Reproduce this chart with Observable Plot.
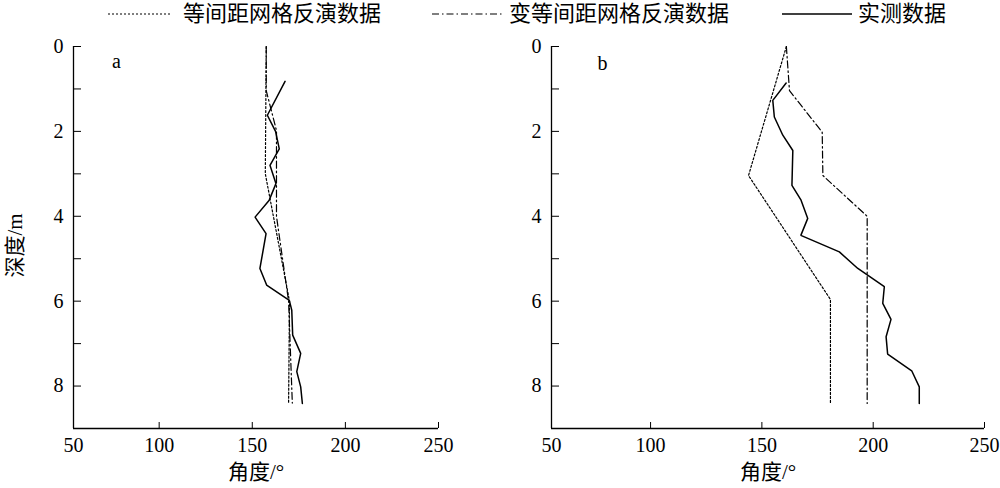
<!DOCTYPE html>
<html><head><meta charset="utf-8">
<script src="https://cdn.jsdelivr.net/npm/d3@7"></script>
<script src="https://cdn.jsdelivr.net/npm/@observablehq/plot@0.6"></script>
<style>
body{margin:0;background:#fff;}
#wrap{position:relative;width:1000px;height:488px;overflow:hidden;}
#pa{position:absolute;left:0;top:0;}
#pb{position:absolute;left:480px;top:0;}
#legend{position:absolute;top:0;left:0;width:1000px;height:30px;font-family:"Liberation Serif","Noto Sans CJK SC",serif;font-size:22px;color:#000;}
#legend .t{position:absolute;top:1px;line-height:26px;white-space:nowrap;}
#legend svg{position:absolute;top:0;left:0;}
</style></head><body>
<div id="wrap"><div id="pa"></div><div id="pb"></div><div id="legend"></div></div>
<script>
// ---- data ----
const seriesNames = ["等间距网格反演数据", "变等间距网格反演数据", "实测数据"];
const xTickLabels = ["50", "100", "150", "200", "250"];
const xTickValues = [50, 100, 150, 200, 250];
const yTickValues = [0, 1, 2, 3, 4, 5, 6, 7, 8];
const xLabel = "角度/°";
const yLabel = "深度/m";
const panelLetters = ["a", "b"];

// panel a
const depthA_eq  = [0, 3, 6, 8.4];
const angleA_eq  = [157.5, 157, 170, 169.5];
const depthA_var = [0, 1.04, 1.98, 3, 4, 6, 8.4];
const angleA_var = [157.5, 157.5, 163, 163, 163, 169.5, 171.5];
const depthA_obs = [0.82, 1.62, 2.0, 2.41, 2.8, 3.23, 3.62, 4.02, 4.41, 5.23, 5.62, 5.98, 6.21, 6.8, 7.23, 7.66, 8.02, 8.41];
const angleA_obs = [167.6, 158.1, 162.5, 164.5, 159.5, 162.7, 159.1, 151.5, 157.4, 154.1, 157.7, 169.9, 171.2, 171.7, 176, 173.9, 176, 176.9];

// panel b
const depthB_eq  = [0, 3.04, 5.96, 8.41];
const angleB_eq  = [161, 144, 180.8, 180.8];
const depthB_var = [0, 1.04, 2.02, 3.04, 4.0, 8.41];
const angleB_var = [161, 162.4, 177.1, 177.4, 197.3, 197.3];
const depthB_obs = [0.86, 1.27, 1.66, 2.09, 2.45, 3.27, 3.62, 4.05, 4.45, 4.84, 5.23, 5.66, 6.05, 6.43, 6.84, 7.25, 7.64, 8.02, 8.41];
const angleB_obs = [160.9, 154.9, 155.6, 159.4, 163.9, 163.5, 167.6, 170.6, 167.5, 184.8, 193.1, 205, 204.3, 208, 205.8, 206.5, 217.3, 220.7, 220.7];

// ---- styles ----
const styles = [
  {stroke: "#000", strokeWidth: 1.2, strokeDasharray: "2,2"},
  {stroke: "#000", strokeWidth: 1.2, strokeDasharray: "7,3,1.5,3"},
  {stroke: "#000", strokeWidth: 1.5, strokeDasharray: null}
];
const toRows = (depths, angles) => depths.map((d, i) => ({depth: d, angle: angles[i]}));

const FONT = "'Liberation Serif', 'Noto Sans CJK SC', serif";

function panel({sets, xStart, width, marginLeft, marginRight, letter, letterDx, letterDy, yTitle}) {
  const ticksX = xTickValues.map((v, i) => i === 0 ? xStart : v);
  const labelOf = new Map(ticksX.map((v, i) => [v, xTickLabels[i]]));
  return Plot.plot({
    width, height: 488,
    marginTop: 46, marginBottom: 60, marginLeft, marginRight,
    style: {fontFamily: FONT, fontSize: "20px", color: "#000", background: "transparent", overflow: "visible"},
    x: {domain: [xStart, 250]},
    y: {domain: [0, 9], reverse: true},
    marks: [
      Plot.axisX({ticks: ticksX, tickFormat: d => labelOf.get(d), tickSize: -6, tickPadding: 15.5, label: null, stroke: "#000"}),
      Plot.axisY({ticks: yTickValues, tickFormat: d => d % 2 === 0 ? String(d) : "", tickSize: -8, tickPadding: 18, label: null, stroke: "#000"}),
      Plot.ruleX([xStart], {stroke: "#000", strokeWidth: 1.3}),
      Plot.ruleY([9], {stroke: "#000", strokeWidth: 1.3}),
      ...sets.map((rows, i) => Plot.line(rows, {x: "angle", y: "depth", ...styles[i], strokeLinejoin: "miter"})),
      Plot.text([letter], {frameAnchor: "top-left", dx: letterDx, dy: letterDy, textAnchor: "middle", lineAnchor: "middle", fontSize: 20, fontFamily: FONT, fill: "#000"}),
      Plot.text([xLabel], {frameAnchor: "bottom", dy: 44, textAnchor: "middle", lineAnchor: "middle", fontSize: 21, fontFamily: FONT, fill: "#000"}),
      ...(yTitle ? [Plot.text([yLabel], {frameAnchor: "left", dx: -58, dy: 8, rotate: -90, textAnchor: "middle", lineAnchor: "middle", fontSize: 21, fontFamily: FONT, fill: "#000"})] : [])
    ]
  });
}

document.getElementById("pa").appendChild(panel({
  sets: [toRows(depthA_eq, angleA_eq), toRows(depthA_var, angleA_var), toRows(depthA_obs, angleA_obs)],
  xStart: 54, width: 460, marginLeft: 73, marginRight: 22,
  letter: panelLetters[0], letterDx: 43, letterDy: 15, yTitle: true
}));
document.getElementById("pb").appendChild(panel({
  sets: [toRows(depthB_eq, angleB_eq), toRows(depthB_var, angleB_var), toRows(depthB_obs, angleB_obs)],
  xStart: 55.5, width: 520, marginLeft: 71, marginRight: 16,
  letter: panelLetters[1], letterDx: 51, letterDy: 17, yTitle: false
}));

// ---- legend ----
const legendItems = [
  {x0: 108, x1: 172, tx: 183},
  {x0: 432, x1: 502, tx: 509},
  {x0: 782, x1: 852, tx: 858}
];
const leg = document.getElementById("legend");
let svg = '<svg width="1000" height="30">';
legendItems.forEach((it, i) => {
  const s = styles[i];
  svg += `<line x1="${it.x0}" x2="${it.x1}" y1="14" y2="14" stroke="#000" stroke-width="${s.strokeWidth}" ${s.strokeDasharray ? `stroke-dasharray="${s.strokeDasharray}"` : ""}/>`;
});
svg += '</svg>';
leg.innerHTML = svg + legendItems.map((it, i) => `<span class="t" style="left:${it.tx}px">${seriesNames[i]}</span>`).join("");
</script>
</body></html>
